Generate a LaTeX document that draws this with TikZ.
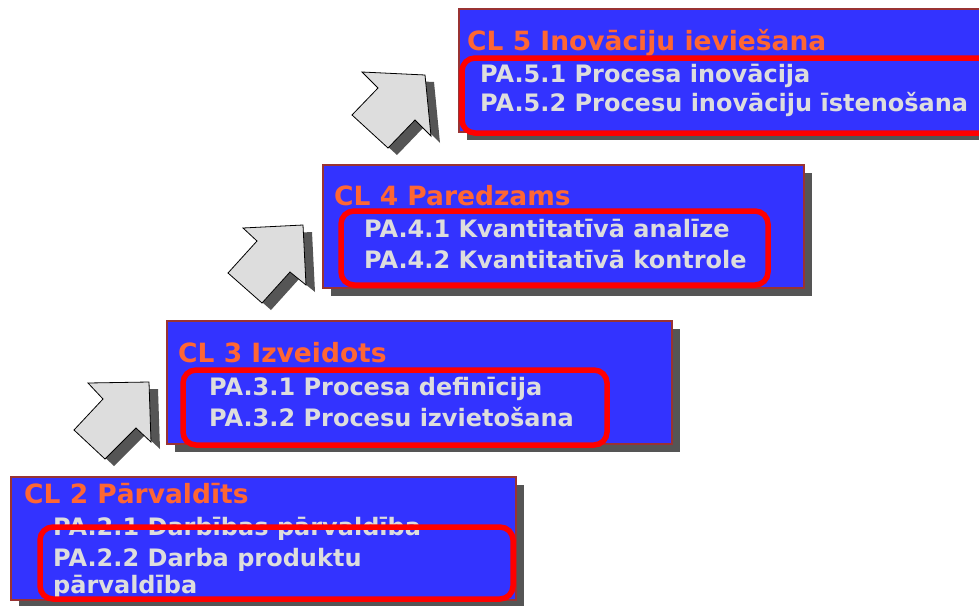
\documentclass[tikz,border=0pt]{standalone}
\usepackage{fontspec}
\setmainfont{DejaVu Sans}
\definecolor{boxblue}{HTML}{3333FF}
\definecolor{boxborder}{HTML}{993333}
\definecolor{shadowgray}{HTML}{555555}
\definecolor{titleorange}{HTML}{FF6633}
\definecolor{itemgray}{HTML}{DDDDDD}
\definecolor{arrowgray}{HTML}{DDDDDD}
\begin{document}
\begin{tikzpicture}[x=1pt,y=-1pt,
 lvbox/.style={draw=boxborder, line width=1.8pt, fill=boxblue, anchor=north west, inner sep=0pt, outer sep=0pt},
 shadowbox/.style={fill=shadowgray, anchor=north west, inner sep=0pt, outer sep=0pt},
 pabox/.style={draw=red, line width=5.5pt, rounded corners=13pt, anchor=north west, inner sep=0pt, outer sep=0pt},
 cltitle/.style={anchor=base west, inner sep=0pt, text=titleorange, font=\bfseries\fontsize{26.5}{30}\selectfont},
 paitem/.style={anchor=base west, inner sep=0pt, text=itemgray, font=\bfseries\fontsize{24}{28}\selectfont},
 uparrow/.style={fill=arrowgray, draw=black, line width=0.8pt, line join=miter},
 arrowshadow/.style={fill=shadowgray}]
\useasboundingbox (0,0) rectangle (979,605);
\clip (0,0) rectangle (979,605);

% ---------- arrows ----------
\fill[arrowshadow, shift={(9,7)}] (149,382) -- (88,383) -- (103,399) -- (74,430) -- (105,459) -- (136,428) -- (151,442) -- cycle;
\draw[uparrow] (149,382) -- (88,383) -- (103,399) -- (74,430) -- (105,459) -- (136,428) -- (151,442) -- cycle;

\fill[arrowshadow, shift={(9,7)}] (303,225) -- (243,228) -- (257,241) -- (228,273) -- (262,303) -- (290,272) -- (306,285) -- cycle;
\draw[uparrow] (303,225) -- (243,228) -- (257,241) -- (228,273) -- (262,303) -- (290,272) -- (306,285) -- cycle;

\fill[arrowshadow, shift={(9,7)}] (425,75) -- (362,72) -- (378,88) -- (352,115) -- (388,148) -- (415,120) -- (431,136) -- cycle;
\draw[uparrow] (425,75) -- (362,72) -- (378,88) -- (352,115) -- (388,148) -- (415,120) -- (431,136) -- cycle;

% ---------- CL 5 ----------
\node[shadowbox, minimum width=530pt, minimum height=123pt] (cl5s) at (467,17) {};
\node[lvbox, minimum width=530pt, minimum height=123pt] (cl5) at (459,9) {};
\node[cltitle] (cl5t) at (467,50) {CL 5 Inovāciju ieviešana};
\node[paitem] (pa51) at (480,82) {PA.5.1 Procesa inovācija};
\node[paitem] (pa52) at (480,111) {PA.5.2 Procesu inovāciju īstenošana};
\node[pabox, minimum width=530pt, minimum height=75pt] (pa5) at (462,58) {};

% ---------- CL 4 ----------
\node[shadowbox, minimum width=481pt, minimum height=123pt] (cl4s) at (331,173) {};
\node[lvbox, minimum width=481pt, minimum height=123pt] (cl4) at (323,165) {};
\node[cltitle] (cl4t) at (334,205) {CL 4 Paredzams};
\node[paitem] (pa41) at (364,237) {PA.4.1 Kvantitatīvā analīze};
\node[paitem] (pa42) at (364,268) {PA.4.2 Kvantitatīvā kontrole};
\node[pabox, minimum width=427pt, minimum height=74pt] (pa4) at (341,211) {};

% ---------- CL 3 ----------
\node[shadowbox, minimum width=505pt, minimum height=123pt] (cl3s) at (175,329) {};
\node[lvbox, minimum width=505pt, minimum height=123pt] (cl3) at (167,321) {};
\node[cltitle] (cl3t) at (178,362) {CL 3 Izveidots};
\node[paitem] (pa31) at (209,395) {PA.3.1 Procesa definīcija};
\node[paitem] (pa32) at (209,426) {PA.3.2 Procesu izvietošana};
\node[pabox, minimum width=424pt, minimum height=75pt] (pa3) at (183,370) {};

% ---------- CL 2 ----------
\node[shadowbox, minimum width=505pt, minimum height=123pt] (cl2s) at (19,485) {};
\node[lvbox, minimum width=505pt, minimum height=123pt] (cl2) at (11,477) {};
\node[cltitle] (cl2t) at (24,503) {CL 2 Pārvaldīts};
\begin{scope}
\clip (11,477) rectangle (516,598);
\node[paitem] (pa21) at (53,535) {PA.2.1 Darbības pārvaldība};
\node[paitem] (pa22) at (53,566) {PA.2.2 Darba produktu};
\node[paitem] (pa22b) at (53,593) {pārvaldība};
\end{scope}
\node[pabox, minimum width=473pt, minimum height=72pt] (pa2) at (40,527) {};
\end{tikzpicture}
\end{document}
